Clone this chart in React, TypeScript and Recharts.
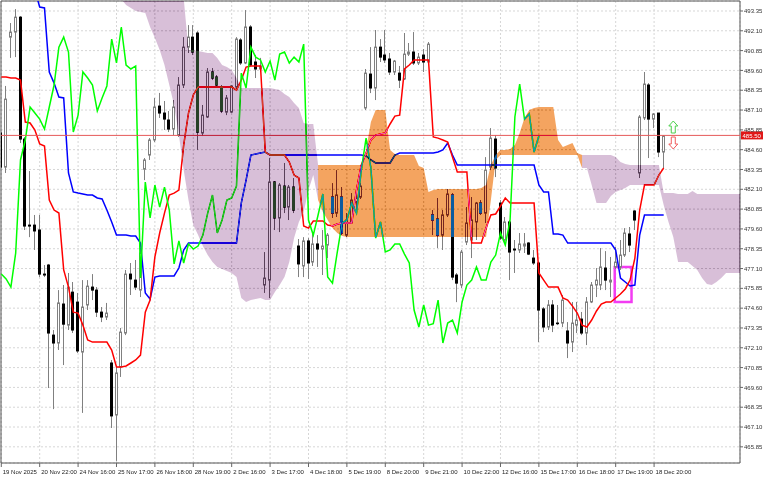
import { ComposedChart, Bar, Line, Area, XAxis, YAxis, CartesianGrid, ReferenceLine, ReferenceArea, ReferenceDot } from 'recharts';

// time axis labels, one every 8 bars
const xLabels = ['19 Nov 2025', '20 Nov 22:00', '24 Nov 16:00', '25 Nov 17:00', '26 Nov 18:00', '28 Nov 19:00', '2 Dec 16:00', '3 Dec 17:00', '4 Dec 18:00', '5 Dec 19:00', '8 Dec 20:00', '9 Dec 21:00', '10 Dec 22:00', '12 Dec 16:00', '15 Dec 17:00', '16 Dec 18:00', '17 Dec 19:00', '18 Dec 20:00'];
const xTickIdx = [0, 8, 16, 24, 32, 40, 48, 56, 64, 72, 80, 88, 96, 104, 112, 120, 128, 136];
const yTicks = [493.35, 492.10, 490.85, 489.60, 488.35, 487.10, 485.85, 484.60, 483.35, 482.10, 480.85, 479.60, 478.35, 477.10, 475.85, 474.60, 473.35, 472.10, 470.85, 469.60, 468.35, 467.10, 465.85];

const open = [485.65, 483.50, 491.70, 492.02, 492.96, 485.27, 479.84, 479.84, 479.53, 476.75,
  477.32, 472.90, 472.40, 474.86, 473.53, 475.61, 474.98, 471.83, 474.80, 475.93,
  475.74, 474.35, 474.04, 471.14, 467.86, 470.89, 473.03, 476.75, 476.37, 475.74,
  483.37, 484.26, 485.21, 487.35, 486.91, 486.47, 485.90, 485.52, 488.68, 491.07,
  491.70, 491.96, 485.65, 486.66, 489.50, 489.18, 488.55, 486.97, 486.97, 488.55,
  491.52, 490.07, 492.34, 490.13, 489.69, 476.06, 476.37, 482.56, 480.29, 482.30,
  480.98, 482.24, 478.52, 477.26, 478.84, 477.51, 478.65, 478.33, 478.58, 481.61,
  480.60, 481.61, 479.21, 480.04, 481.30, 481.61, 487.23, 489.37, 488.49, 491.07,
  490.57, 490.32, 489.50, 489.43, 489.06, 490.63, 490.76, 490.07, 490.57, 490.13,
  480.48, 480.22, 479.21, 480.48, 481.74, 476.69, 476.06, 478.77, 478.90, 480.04,
  481.23, 480.60, 483.50, 485.27, 481.23, 478.90, 480.04, 478.33, 478.27, 478.52,
  478.71, 477.76, 477.45, 474.55, 473.41, 474.80, 473.66, 473.66, 473.16, 472.46,
  473.53, 473.91, 473.03, 474.99, 476.06, 476.06, 477.13, 476.25, 477.20, 477.20,
  477.95, 479.28, 480.73, 483.13, 486.60, 488.68, 486.53, 486.91, 484.45];
const high = [485.78, 488.62, 492.59, 493.47, 493.03, 485.40, 483.25, 480.48, 480.48, 477.32,
  477.39, 473.22, 475.74, 476.06, 476.82, 476.25, 475.56, 476.37, 476.37, 476.75,
  475.93, 474.67, 474.93, 471.33, 470.89, 473.35, 477.01, 477.45, 477.64, 478.39,
  484.07, 485.33, 487.86, 488.18, 487.67, 487.04, 487.73, 489.18, 491.70, 492.46,
  492.46, 492.08, 487.42, 489.75, 489.75, 489.31, 488.68, 488.05, 488.68, 491.70,
  491.64, 493.41, 492.46, 490.57, 490.39, 478.14, 484.07, 482.62, 482.49, 483.76,
  482.37, 482.81, 478.96, 479.08, 479.02, 479.34, 479.21, 479.53, 479.34, 482.49,
  483.31, 482.24, 480.60, 481.86, 481.93, 482.49, 489.69, 491.07, 492.15, 491.58,
  492.15, 490.70, 490.26, 489.88, 491.96, 491.33, 492.02, 490.70, 490.95, 491.39,
  480.79, 481.55, 480.79, 482.12, 481.86, 476.82, 478.27, 480.98, 481.61, 481.30,
  481.42, 484.13, 485.96, 485.52, 481.42, 480.35, 480.16, 478.90, 479.34, 479.34,
  478.77, 478.27, 477.51, 474.67, 475.11, 475.11, 474.80, 475.43, 473.72, 474.99,
  474.99, 474.36, 475.30, 476.25, 477.13, 478.39, 478.20, 477.83, 478.46, 478.90,
  479.65, 479.72, 480.79, 486.78, 489.50, 488.80, 486.91, 486.91, 485.52];
const low = [483.37, 483.13, 490.39, 490.44, 485.02, 479.53, 479.08, 478.27, 476.56, 476.56,
  469.56, 468.23, 471.96, 471.01, 473.22, 473.03, 471.77, 467.99, 474.48, 475.11,
  474.04, 473.72, 473.85, 467.04, 464.96, 470.26, 472.90, 475.43, 475.74, 475.30,
  482.68, 483.95, 485.08, 486.60, 485.84, 485.71, 485.52, 485.40, 488.49, 490.70,
  490.57, 484.58, 485.46, 486.60, 488.99, 488.49, 486.91, 486.78, 486.91, 488.36,
  489.94, 490.00, 489.88, 489.12, 489.50, 475.56, 475.24, 479.53, 479.40, 480.60,
  480.16, 480.60, 476.56, 476.56, 476.44, 477.26, 477.20, 476.69, 477.76, 480.29,
  480.35, 479.21, 479.08, 479.91, 480.60, 481.49, 487.10, 488.17, 487.73, 490.13,
  490.07, 489.31, 489.31, 488.49, 488.99, 490.51, 489.94, 489.94, 489.50, 490.00,
  479.21, 478.39, 478.27, 480.35, 476.37, 474.98, 475.87, 478.58, 477.76, 478.90,
  480.48, 479.97, 483.31, 482.87, 478.90, 478.71, 476.37, 476.82, 478.08, 478.08,
  477.95, 477.32, 472.46, 473.09, 473.22, 473.09, 473.53, 473.41, 471.45, 471.83,
  473.03, 472.90, 472.27, 474.92, 475.30, 475.74, 475.74, 475.30, 477.07, 477.01,
  477.83, 478.14, 479.53, 482.81, 486.47, 484.07, 485.96, 484.13, 483.44];
const close = [483.50, 487.79, 492.02, 492.96, 485.27, 479.78, 479.78, 479.47, 476.75, 476.69,
  473.03, 472.40, 474.93, 473.59, 475.93, 473.22, 471.90, 474.67, 475.99, 475.74,
  474.35, 474.04, 474.29, 467.80, 470.51, 473.09, 476.75, 476.44, 475.93, 478.08,
  483.95, 485.21, 487.29, 486.91, 486.53, 485.90, 487.29, 488.68, 491.07, 491.70,
  490.76, 485.71, 486.78, 489.50, 489.12, 488.68, 487.04, 487.86, 488.62, 491.58,
  490.07, 492.34, 489.94, 489.69, 489.88, 476.50, 482.56, 480.29, 482.37, 480.98,
  482.24, 480.79, 477.39, 478.84, 477.45, 478.65, 478.33, 478.52, 479.21, 480.60,
  481.74, 479.34, 480.16, 481.42, 481.55, 482.30, 489.43, 488.49, 491.07, 490.44,
  490.26, 489.50, 490.19, 488.99, 490.63, 490.76, 490.07, 490.44, 490.13, 491.26,
  480.16, 479.21, 480.48, 481.80, 476.56, 476.18, 478.14, 479.97, 480.16, 481.23,
  480.60, 483.31, 485.33, 483.44, 479.02, 480.04, 478.14, 478.27, 478.65, 478.65,
  478.01, 477.45, 474.48, 473.41, 474.80, 473.53, 473.62, 475.11, 472.40, 473.66,
  473.85, 473.03, 474.99, 476.06, 476.37, 477.20, 476.37, 476.37, 477.51, 477.95,
  479.34, 478.58, 480.16, 486.66, 488.74, 486.53, 486.85, 484.45, 485.46];

// Ichimoku lines
const tenkan = [489.18, 489.18, 489.12, 489.12, 488.99, 486.34, 486.28, 485.84, 484.96, 484.83,
  481.42, 480.79, 480.60, 477.01, 475.93, 474.35, 474.29, 473.53, 472.59, 472.46,
  472.46, 472.46, 472.46, 471.96, 470.89, 470.89, 470.95, 471.14, 471.33, 471.64,
  474.35, 475.11, 477.83, 479.34, 480.60, 481.74, 481.86, 482.05, 484.89, 486.91,
  488.05, 488.55, 488.55, 488.55, 488.55, 488.55, 488.55, 488.55, 488.55, 488.36,
  488.99, 489.81, 489.88, 489.88, 489.88, 484.45, 484.26, 484.26, 484.26, 484.26,
  483.82, 483.00, 482.81, 479.78, 479.65, 480.10, 480.10, 480.10, 479.84, 479.78,
  479.91, 479.97, 479.97, 479.97, 482.05, 483.63, 484.39, 485.21, 485.52, 485.59,
  485.65, 486.22, 486.72, 486.78, 489.69, 489.94, 490.26, 490.26, 490.26, 490.26,
  485.40, 485.33, 485.21, 485.08, 484.13, 483.19, 483.19, 483.19, 478.71, 478.71,
  478.71, 479.65, 480.48, 480.54, 481.04, 481.55, 481.23, 481.23, 481.23, 481.23,
  481.23, 481.23, 476.82, 476.37, 475.93, 475.93, 475.93, 475.24, 475.11, 474.73,
  474.29, 473.53, 473.41, 473.85, 474.42, 474.86, 474.99, 474.99, 475.24, 475.49,
  475.81, 476.37, 477.76, 480.79, 482.37, 482.37, 482.37, 483.00, 483.44];
const kijun = [495.30, 495.30, 495.30, 495.30, 495.30, 495.30, 495.30, 494.67, 493.60, 493.54,
  489.50, 488.80, 487.92, 487.86, 483.13, 481.93, 481.86, 481.80, 481.74, 481.74,
  481.55, 481.49, 480.79, 480.03, 479.21, 479.21, 479.21, 479.15, 479.15, 478.71,
  475.56, 475.18, 476.56, 476.63, 476.63, 476.63, 476.63, 477.13, 478.27, 478.71,
  478.71, 478.71, 478.71, 478.71, 478.71, 478.71, 478.71, 478.71, 478.71, 478.71,
  481.23, 482.68, 484.26, 484.32, 484.39, 484.45, 484.26, 484.26, 484.26, 484.26,
  484.26, 484.26, 484.26, 484.26, 484.26, 484.26, 484.26, 484.26, 484.26, 484.26,
  484.26, 484.26, 484.26, 484.26, 484.26, 484.26, 484.20, 483.95, 483.76, 483.76,
  483.76, 483.76, 484.26, 484.39, 484.39, 484.39, 484.39, 484.39, 484.39, 484.39,
  484.39, 484.45, 484.58, 485.02, 484.26, 483.63, 483.63, 483.63, 483.63, 483.63,
  483.63, 483.63, 483.63, 483.63, 483.63, 483.63, 483.63, 483.63, 483.63, 483.63,
  483.63, 483.63, 482.37, 481.93, 481.93, 479.28, 479.28, 479.21, 478.71, 478.71,
  478.71, 478.71, 478.71, 478.71, 478.71, 478.71, 478.71, 478.71, 478.27, 476.50,
  476.25, 476.00, 476.06, 479.21, 480.48, 480.48, 480.48, 480.48, 480.48];

// senkou spans, starting at bar 25 and running 26 bars past the last candle
const CLOUD_START = 25;
const spanA = [494.10, 493.72, 493.54, 493.35, 493.28, 493.22, 492.34, 491.64, 490.89, 489.94,
  488.68, 487.42, 485.52, 483.31, 481.42, 479.84, 479.21, 478.52, 477.95, 477.51,
  477.20, 477.07, 476.94, 476.82, 476.56, 475.24, 474.99, 475.11, 475.18, 475.24,
  475.11, 475.11, 475.62, 476.06, 476.56, 477.51, 479.02, 480.03, 480.66, 482.05,
  483.00,
  483.63, 483.63, 483.63, 483.63, 483.63, 483.63, 483.63, 483.63, 483.63, 483.63,
  484.58, 486.34, 487.10, 487.10, 487.10, 484.58, 484.32, 484.26, 484.26, 484.26,
  484.26, 483.57, 483.44, 481.93, 482.05, 482.12, 482.12, 482.12, 482.12, 482.12,
  482.12, 482.12, 482.12, 482.12, 482.18, 482.37, 483.63, 484.26, 484.58, 484.58,
  484.64, 484.89, 485.65, 486.60, 487.10, 487.23, 487.29, 487.29, 487.29, 487.29,
  485.21, 484.77, 484.89, 485.02, 484.39,
  483.44, 483.44, 482.37, 481.23, 481.23, 481.23, 481.67, 481.93, 482.05, 482.18,
  482.37, 482.37, 482.37, 482.37, 482.37, 482.37, 482.37, 481.11, 480.03, 479.09,
  477.51, 477.51, 477.51, 477.26, 477.01, 476.50, 476.12, 476.06, 476.25, 476.50,
  476.82, 476.82, 476.82, 476.82];
const spanB = [494.54, 494.54, 494.54, 494.54, 494.54, 494.54, 494.54, 494.54, 494.54, 494.54,
  494.54, 494.54, 494.54, 494.17, 490.89, 490.89, 490.82, 490.76, 490.70, 490.70,
  490.38, 489.94, 489.81, 489.62, 489.12, 488.49, 488.49, 488.49, 488.49, 488.49,
  488.49, 488.49, 488.43, 488.36, 488.11, 487.92, 487.54, 487.23, 486.28, 486.22,
  486.22,
  481.42, 480.66, 480.16, 479.65, 479.34, 479.15, 479.09, 479.09, 479.09, 479.09,
  479.09, 479.09, 479.09, 479.09, 479.09, 479.09, 479.09, 479.09, 479.09, 479.09,
  479.09, 479.09, 479.09, 479.09, 479.09, 479.09, 479.09, 479.09, 479.09, 479.09,
  479.09, 479.09, 479.09, 479.09, 479.09, 479.09, 481.42, 483.95, 484.26, 484.26,
  484.26, 484.26, 484.26, 484.26, 484.26, 484.26, 484.26, 484.26, 484.26, 484.26,
  484.26, 484.26, 484.26, 484.26, 484.26,
  484.26, 484.26, 484.26, 484.26, 484.26, 484.26, 484.26, 484.13, 483.82, 483.69,
  483.63, 483.63, 483.63, 483.63, 483.63, 483.63, 483.63, 481.86, 481.86, 481.86,
  481.80, 481.80, 481.80, 481.99, 481.80, 481.80, 481.80, 481.80, 481.80, 481.80,
  481.80, 481.80, 481.80, 481.80];

const CHIKOU_SHIFT = 26;
const LAST_PRICE = 485.5;
const signal = { bar: 140, up: 486.03, down: 485.02 };
const highlight = { from: 127.8, to: 131.3, lo: 474.99, hi: 477.2 };

const X_MIN = -0.06;
const X_MAX = 153.9;
const Y_MIN = 464.83;
const Y_MAX = 493.98;

const WICK = '#808080';

const spanAt = (i: number) => {
  const k = i - CLOUD_START;
  if (k < 0 || k >= spanA.length) return null;
  return { a: spanA[k], b: spanB[k] };
};
const isBull = (i: number) => { const s = spanAt(i); return s ? s.a >= s.b : false; };
const isBear = (i: number) => { const s = spanAt(i); return s ? s.a < s.b : false; };

const data = Array.from({ length: CLOUD_START + spanA.length }, (_, i) => {
  const s = spanAt(i);
  const band = s ? [Math.min(s.a, s.b), Math.max(s.a, s.b)] : null;
  const hasBar = i < close.length;
  return {
    i,
    open: hasBar ? open[i] : null,
    high: hasBar ? high[i] : null,
    low: hasBar ? low[i] : null,
    close: hasBar ? close[i] : null,
    tenkan: hasBar ? tenkan[i] : null,
    kijun: hasBar ? kijun[i] : null,
    chikou: i + CHIKOU_SHIFT < close.length ? close[i + CHIKOU_SHIFT] : null,
    bullCloud: band && (isBull(i) || isBull(i - 1)) ? band : null,
    bearCloud: band && (isBear(i) || isBear(i - 1)) ? band : null,
  };
});

function Candle(props: any) {
  const { x, y, width, height, payload } = props;
  if (payload.high == null) return null;
  const k = height / (payload.high - payload.low || 1);
  const py = (v: number) => y + (payload.high - v) * k;
  const cx = Math.floor(x + width / 2) + 0.5;
  const up = payload.close >= payload.open;
  const top = py(Math.max(payload.open, payload.close));
  const bot = py(Math.min(payload.open, payload.close));
  return (
    <g>
      <line x1={cx} x2={cx} y1={y} y2={y + height} stroke={WICK} strokeWidth={1} />
      <rect x={cx - 1} y={top} width={2} height={Math.max(bot - top, 0.5)}
        fill={up ? '#fff' : '#000'} stroke={up ? WICK : '#000'} strokeWidth={1} />
    </g>
  );
}

function XTick({ x, y, payload }: any) {
  const label = xLabels[xTickIdx.indexOf(payload.value)];
  return (
    <text x={x + 1.5} y={y + 7} fontSize={6} fill="#222" fontFamily="Liberation Sans, Arial, sans-serif" textAnchor="start">
      {label}
    </text>
  );
}

function UpArrow({ cx, cy }: any) {
  const d = `M${cx},${cy - 6} L${cx + 4.5},${cy - 1} L${cx + 2},${cy - 1} L${cx + 2},${cy + 6} L${cx - 2},${cy + 6} L${cx - 2},${cy - 1} L${cx - 4.5},${cy - 1} Z`;
  return <path d={d} fill="#fff" stroke="#4ccf4c" strokeWidth={1} />;
}

function DownArrow({ cx, cy }: any) {
  const d = `M${cx},${cy + 6} L${cx + 4.5},${cy + 1} L${cx + 2},${cy + 1} L${cx + 2},${cy - 6} L${cx - 2},${cy - 6} L${cx - 2},${cy + 1} L${cx - 4.5},${cy + 1} Z`;
  return <path d={d} fill="#fff" stroke="#f05a5a" strokeWidth={1} />;
}

function PriceTag(props: any) {
  const { viewBox } = props;
  const vx = viewBox.x + viewBox.width;
  const vy = viewBox.y;
  return (
    <g>
      <rect x={vx + 1} y={vy - 4} width={22} height={8} fill="#e01818" />
      <text x={vx + 2.5} y={vy + 2.2} fontSize={6} fill="#fff" fontFamily="Liberation Sans, Arial, sans-serif">
        {LAST_PRICE.toFixed(2)}
      </text>
    </g>
  );
}

export default function App() {
  return (
    <div style={{ position: 'absolute', left: 0, top: 0, width: 768, height: 480, background: '#fff' }}>
      {/* the cloud is painted like MT5 does it: xor-style over whatever is below */}
      <style>{'.mb{mix-blend-mode:difference}'}</style>
      <ComposedChart width={768} height={480} data={data} margin={{ top: 1, right: 0, bottom: 0, left: 1 }}>
        <CartesianGrid fill="#ffffff" fillOpacity={1} stroke="#d6d6d6" strokeDasharray="2 2" />
        <XAxis dataKey="i" type="number" domain={[X_MIN, X_MAX]} allowDataOverflow ticks={xTickIdx} interval={0}
          tick={<XTick />} tickSize={4} tickMargin={0} tickLine={{ stroke: '#666' }} axisLine={false} height={17} />
        <YAxis orientation="right" width={28} domain={[Y_MIN, Y_MAX]} allowDataOverflow ticks={yTicks} interval={0}
          tickSize={3} tickMargin={1} tickLine={{ stroke: '#666' }} axisLine={false}
          tick={{ fontSize: 6, fill: '#333', fontFamily: 'Liberation Sans, Arial, sans-serif' }}
          tickFormatter={(v: number) => v.toFixed(2)} />
        <Bar dataKey={(d: any) => (d.high == null ? null : [d.low, d.high])} barSize={4} shape={<Candle />} isAnimationActive={false} />
        <Line type="linear" dataKey="kijun" stroke="#0000ff" strokeWidth={1.5} dot={false} isAnimationActive={false} />
        <Line type="linear" dataKey="tenkan" stroke="#ff0000" strokeWidth={1.5} dot={false} isAnimationActive={false} />
        <Line type="linear" dataKey="chikou" stroke="#00ff00" strokeWidth={1.5} dot={false} isAnimationActive={false} />
        <Area className="mb" type="linear" dataKey="bearCloud" stroke="none" fill="#274027" fillOpacity={1} isAnimationActive={false} zIndex={900} />
        <Area className="mb" type="linear" dataKey="bullCloud" stroke="none" fill="#0b5b9f" fillOpacity={1} isAnimationActive={false} zIndex={900} />
        <ReferenceArea x1={highlight.from} x2={highlight.to} y1={highlight.lo} y2={highlight.hi} fill="none" stroke="#f23cf2" strokeWidth={2.5} />
        <ReferenceDot x={signal.bar} y={signal.up} shape={<UpArrow />} />
        <ReferenceDot x={signal.bar} y={signal.down} shape={<DownArrow />} />
        <ReferenceArea x1={X_MIN} x2={X_MAX} y1={Y_MIN} y2={Y_MAX} fill="none" stroke="#555" strokeWidth={1} />
        <ReferenceLine y={LAST_PRICE} stroke="#e65a5a" strokeWidth={1} label={<PriceTag />} />
      </ComposedChart>
    </div>
  );
}
